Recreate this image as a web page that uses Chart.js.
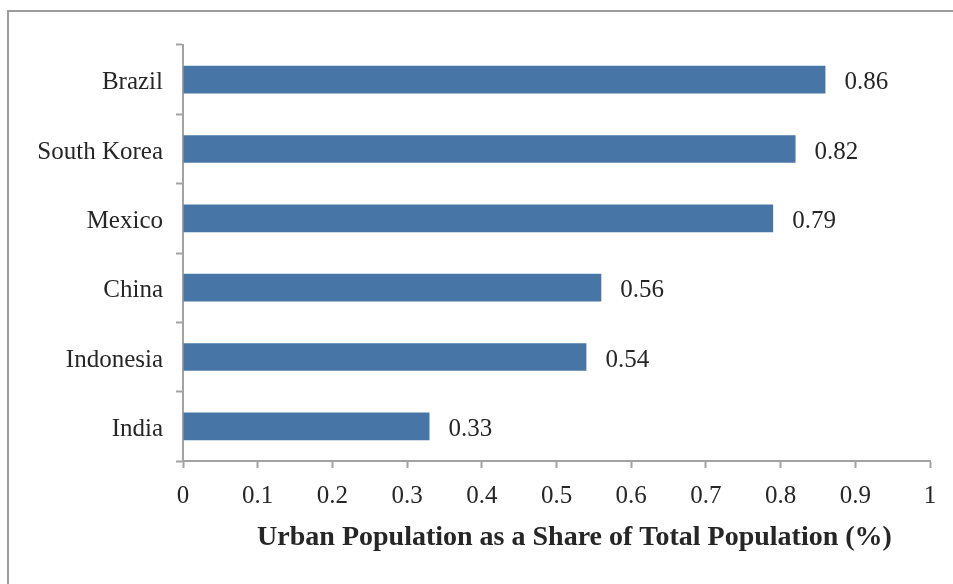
<!DOCTYPE html>
<html>
<head>
<meta charset="utf-8">
<script src="https://cdn.jsdelivr.net/npm/chart.js@4"></script>
<style>
  html, body { margin: 0; padding: 0; background: #fff; }
  #wrap { width: 953px; height: 584px; position: relative; }
</style>
</head>
<body>
<div id="wrap"><canvas id="chart-urban"></canvas></div>
<script>
    "use strict";

    // data
    var countries = ['Brazil', 'South Korea', 'Mexico', 'China', 'Indonesia', 'India']
    var urbanShare = [0.86, 0.82, 0.79, 0.56, 0.54, 0.33]
    var xTicks = [0, 0.1, 0.2, 0.3, 0.4, 0.5, 0.6, 0.7, 0.8, 0.9, 1]
    var axisTitle = 'Urban Population as a Share of Total Population (%)'

    var serif = "'Liberation Serif', 'DejaVu Serif', serif"
    var axisGray = '#a3a3a3'

    // frame + value labels + axis title
    var extras = {
        id: 'extras',
        beforeDraw: function(chart) {
            var ctx = chart.ctx
            ctx.save()
            ctx.strokeStyle = '#9c9c9c'
            ctx.lineWidth = 2
            ctx.strokeRect(8, 11, 1000, 700)
            ctx.restore()
        },
        afterDatasetsDraw: function(chart) {
            var ctx = chart.ctx
            var meta = chart.getDatasetMeta(0)
            ctx.save()
            ctx.font = '25px ' + serif
            ctx.fillStyle = '#262626'
            ctx.textBaseline = 'middle'
            ctx.textAlign = 'left'
            meta.data.forEach(function(bar, i) {
                ctx.fillText(urbanShare[i].toFixed(2), bar.x + 19, bar.y + 3)
            })
            ctx.font = 'bold 28px ' + serif
            ctx.textAlign = 'center'
            var area = chart.chartArea
            ctx.fillText(axisTitle, (area.left + area.right) / 2 + 18, 538)
            ctx.restore()
        }
    }

    var canvas = document.getElementById('chart-urban').getContext('2d')

    new Chart(canvas, {
        type: 'bar',
        data: {
            labels: countries,
            datasets: [{
                label: 'Urban share',
                backgroundColor: '#4675a6',
                borderWidth: 0,
                barPercentage: 0.4,
                categoryPercentage: 1,
                data: urbanShare
            }]
        },
        options: {
            indexAxis: 'y',
            responsive: true,
            maintainAspectRatio: false,
            animation: false,
            layout: { padding: { top: 45, right: 23, left: 0, bottom: 0 } },
            plugins: {
                legend: { display: false },
                tooltip: { enabled: false }
            },
            scales: {
                x: {
                    min: 0,
                    max: 1,
                    afterBuildTicks: function(scale) {
                        scale.ticks = xTicks.map(function(v) { return { value: v } })
                    },
                    afterFit: function(scale) { scale.height = 123 },
                    grid: {
                        drawOnChartArea: false,
                        drawTicks: true,
                        tickLength: 7,
                        tickColor: axisGray,
                        tickWidth: 2
                    },
                    border: { color: axisGray, width: 2 },
                    ticks: {
                        padding: 13,
                        color: '#262626',
                        font: { family: serif, size: 25 },
                        callback: function(v) { return String(v) }
                    }
                },
                y: {
                    afterFit: function(scale) { scale.width = 183 },
                    grid: {
                        offset: true,
                        drawOnChartArea: false,
                        drawTicks: true,
                        tickLength: 7,
                        tickColor: axisGray,
                        tickWidth: 2
                    },
                    border: { color: axisGray, width: 2 },
                    ticks: {
                        padding: 13,
                        labelOffset: 3,
                        color: '#262626',
                        font: { family: serif, size: 25 }
                    }
                }
            }
        },
        plugins: [extras]
    })
</script>
</body>
</html>
